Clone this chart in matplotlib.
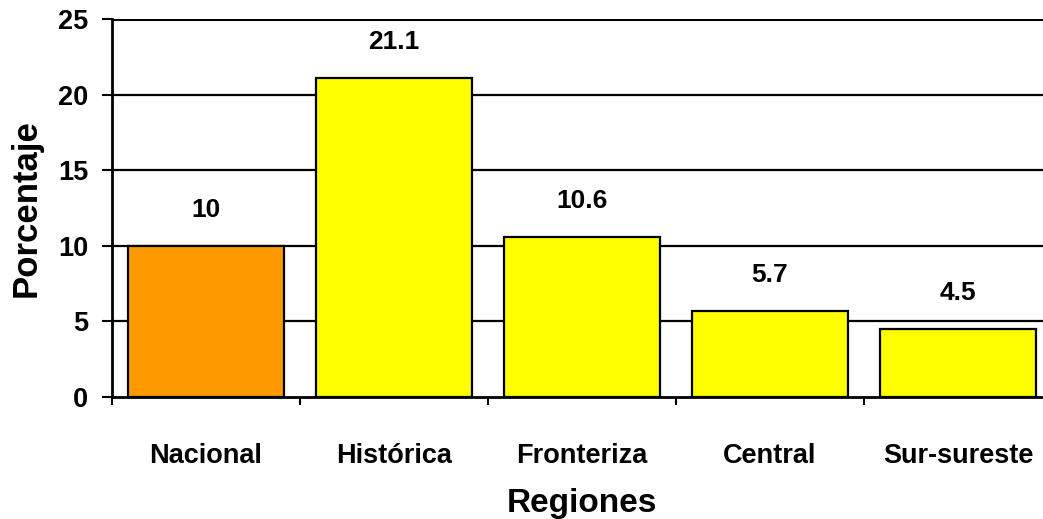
import matplotlib
matplotlib.use("Agg")
import matplotlib.pyplot as plt
from matplotlib.ticker import FixedLocator, NullFormatter

plt.rcParams['font.family'] = ['Liberation Sans', 'DejaVu Sans']
plt.rcParams['font.weight'] = 'bold'

regiones = ["Nacional", "Histórica", "Fronteriza", "Central", "Sur-sureste"]
porcentaje = [10, 21.1, 10.6, 5.7, 4.5]
colores = ["#FF9900", "#FFFF00", "#FFFF00", "#FFFF00", "#FFFF00"]
etiquetas = ["10", "21.1", "10.6", "5.7", "4.5"]
yticks = [0, 5, 10, 15, 20, 25]

fig = plt.figure(figsize=(10.43, 5.19), dpi=100)
ax = fig.add_axes([0.1074, 0.2351, 0.9012, 0.7283])

x = list(range(len(regiones)))
ax.bar(x, porcentaje, width=0.83, color=colores, edgecolor='black',
       linewidth=1.6, zorder=3)

for xi, v, t in zip(x, porcentaje, etiquetas):
    ax.annotate(t, (xi, v), xytext=(0, 21), textcoords='offset points',
                ha='center', va='baseline', fontsize=19, fontweight='bold')

ax.set_xlim(-0.5, len(regiones) - 0.5)
ax.set_ylim(0, 25)

# horizontal grid lines
for yv in yticks[1:]:
    ax.axhline(yv, color='black', lw=2.2 if yv == 25 else 1.6, zorder=1)

ax.set_yticks(yticks)
ax.tick_params(axis='y', length=7, width=1.5, pad=10, labelsize=19.5)

# tick marks between categories, labels at category centres
ax.xaxis.set_major_locator(FixedLocator([i + 0.5 for i in x[:-1]] + [-0.5]))
ax.xaxis.set_major_formatter(NullFormatter())
ax.xaxis.set_minor_locator(FixedLocator(x))
ax.set_xticks(x, regiones, minor=True)
ax.tick_params(axis='x', which='major', length=6, width=1.5)
ax.tick_params(axis='x', which='minor', length=0, pad=33, labelsize=19.5)
for lbl in ax.get_xticklabels(minor=True) + ax.get_yticklabels():
    lbl.set_fontweight('bold')

for side in ('top', 'right'):
    ax.spines[side].set_visible(False)
ax.spines['left'].set_linewidth(2)
ax.spines['bottom'].set_linewidth(2)
ax.spines['left'].set_zorder(4)
ax.spines['bottom'].set_zorder(4)

ax.set_ylabel("Porcentaje", fontsize=25, fontweight='bold', va='center')
ax.yaxis.set_label_coords(-0.0915, 0.5)
ax.set_xlabel("Regiones", fontsize=24, fontweight='bold', va='baseline')
ax.xaxis.set_label_coords(0.5, -0.304)

fig.savefig("out.png", dpi=100)
